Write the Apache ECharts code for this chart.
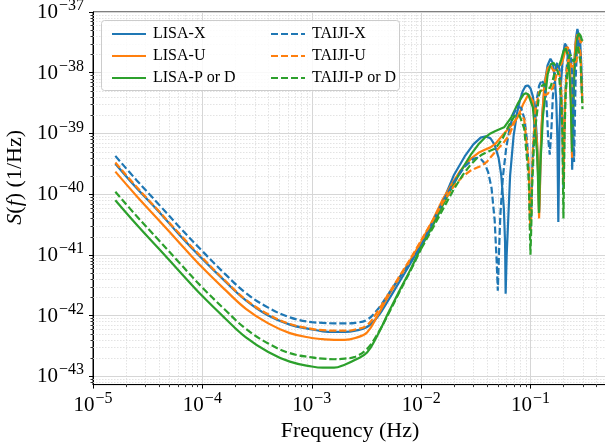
<!DOCTYPE html>
<html>
<head>
<meta charset="utf-8">
<script src="https://cdn.jsdelivr.net/npm/echarts@6/dist/echarts.min.js"></script>
<style>
  html, body { margin: 0; padding: 0; background: #fff; }
  #chart { width: 605px; height: 443px; }
</style>
</head>
<body>
<div id="chart"></div>
<script>
// frequency grid (Hz) shared by the smooth low-frequency part
const freqLow = [1.6e-5, 2.5e-5, 4e-5, 6.3e-5, 1e-4, 1.6e-4, 2.5e-4, 4e-4, 6.3e-4, 1e-3,
  1.26e-3, 1.6e-3, 2e-3, 2.5e-3, 3.2e-3, 4e-3, 5e-3, 6.3e-3, 8e-3, 1e-2];

// log10 S(f) [1/Hz]
const lisaXLow  = [-39.50, -39.90, -40.29, -40.69, -41.07, -41.43, -41.75, -42.00, -42.15, -42.23, -42.26, -42.27, -42.27, -42.25, -42.19, -42.02, -41.75, -41.45, -41.14, -40.83];
const lisaULow  = [-39.63, -40.03, -40.43, -40.82, -41.21, -41.57, -41.89, -42.13, -42.29, -42.37, -42.39, -42.40, -42.40, -42.37, -42.28, -42.00, -41.68, -41.38, -41.08, -40.78];
const lisaPLow  = [-40.10, -40.50, -40.90, -41.29, -41.68, -42.04, -42.36, -42.60, -42.76, -42.84, -42.86, -42.86, -42.81, -42.73, -42.61, -42.32, -41.96, -41.60, -41.24, -40.87];
const taijiXLow = [-39.37, -39.77, -40.17, -40.56, -40.94, -41.31, -41.63, -41.87, -42.03, -42.11, -42.12, -42.13, -42.13, -42.12, -42.07, -41.90, -41.65, -41.38, -41.12, -40.85];
const taijiULow = [-39.48, -39.88, -40.28, -40.67, -41.05, -41.42, -41.74, -41.98, -42.14, -42.22, -42.24, -42.25, -42.25, -42.23, -42.16, -41.93, -41.65, -41.36, -41.06, -40.76];
const taijiPLow = [-39.96, -40.36, -40.76, -41.15, -41.54, -41.90, -42.22, -42.46, -42.62, -42.69, -42.71, -42.72, -42.71, -42.68, -42.55, -42.30, -41.98, -41.62, -41.26, -40.90];

// high-frequency part with the transfer-function dips: [f (Hz), log10 S]
const lisaXHigh = [[0.0126,-40.5],[0.0158,-40.12],[0.02,-39.68],[0.025,-39.38],[0.03,-39.18],[0.035,-39.07],[0.039,-39.05],[0.043,-39.08],[0.047,-39.19],[0.051,-39.4],[0.054,-39.69],[0.057,-40.23],[0.0585,-40.8],[0.0592,-41.64],[0.0605,-41.0],[0.0624,-40.45],[0.065,-39.7],[0.07,-39.04],[0.075,-38.68],[0.08,-38.45],[0.085,-38.3],[0.09,-38.22],[0.095,-38.21],[0.1,-38.26],[0.105,-38.39],[0.11,-38.65],[0.114,-39.04],[0.117,-39.6],[0.1198,-40.3],[0.1215,-39.95],[0.124,-39.31],[0.128,-38.7],[0.135,-38.17],[0.143,-37.88],[0.152,-37.77],[0.16,-37.84],[0.167,-38.11],[0.172,-38.48],[0.176,-39.09],[0.1795,-40.46],[0.181,-39.92],[0.184,-38.9],[0.19,-38.16],[0.198,-37.71],[0.206,-37.52],[0.214,-37.49],[0.222,-37.62],[0.229,-37.92],[0.234,-38.32],[0.238,-38.95],[0.2402,-39.6],[0.242,-39.33],[0.246,-38.37],[0.252,-37.79],[0.26,-37.43],[0.268,-37.28],[0.276,-37.29],[0.284,-37.48],[0.29,-37.81],[0.296,-38.3]];
const lisaUHigh = [[0.0126,-40.45],[0.0158,-40.08],[0.0191,-39.83],[0.0229,-39.61],[0.0287,-39.41],[0.0334,-39.32],[0.0382,-39.27],[0.043,-39.23],[0.0478,-39.17],[0.0573,-39.0],[0.0669,-38.87],[0.0764,-38.73],[0.086,-38.51],[0.0955,-38.36],[0.105,-38.47],[0.1146,-39.15],[0.1162,-39.4],[0.1197,-40.4],[0.1219,-39.9],[0.1238,-39.3],[0.126,-38.88],[0.1337,-38.21],[0.1433,-37.92],[0.1528,-37.89],[0.1624,-37.97],[0.172,-37.95],[0.1815,-37.89],[0.191,-37.86],[0.2006,-37.75],[0.21,-37.59],[0.2197,-37.58],[0.2292,-37.91],[0.235,-38.48],[0.2398,-39.4],[0.2445,-38.56],[0.2483,-38.04],[0.2579,-37.51],[0.2674,-37.37],[0.277,-37.43],[0.2865,-37.51],[0.296,-37.47],[0.3,-37.47]];
const lisaPHigh = [[0.0126,-40.54],[0.0158,-40.18],[0.0191,-39.89],[0.0229,-39.63],[0.0287,-39.34],[0.0334,-39.18],[0.0382,-39.07],[0.043,-39.0],[0.0478,-38.96],[0.0573,-38.9],[0.0669,-38.73],[0.0764,-38.51],[0.086,-38.36],[0.0907,-38.34],[0.0955,-38.36],[0.105,-38.57],[0.1146,-39.31],[0.1162,-39.56],[0.1193,-40.31],[0.1225,-39.55],[0.1255,-39.23],[0.1299,-38.71],[0.1433,-38.03],[0.1528,-37.86],[0.1624,-37.84],[0.172,-37.9],[0.1815,-37.9],[0.191,-37.78],[0.2006,-37.64],[0.21,-37.6],[0.2197,-37.73],[0.2292,-38.14],[0.2345,-38.64],[0.2398,-39.3],[0.2455,-38.64],[0.2521,-37.97],[0.2674,-37.42],[0.277,-37.35],[0.2865,-37.39],[0.296,-37.47],[0.3,-37.46]];
const taijiXHigh = [[0.0126,-40.48],[0.0158,-40.12],[0.02,-39.8],[0.025,-39.55],[0.03,-39.42],[0.0325,-39.4],[0.035,-39.42],[0.038,-39.49],[0.041,-39.64],[0.044,-39.9],[0.047,-40.43],[0.049,-41.1],[0.0502,-41.59],[0.0515,-40.95],[0.053,-40.33],[0.056,-39.7],[0.06,-39.23],[0.065,-38.88],[0.07,-38.68],[0.076,-38.56],[0.082,-38.58],[0.088,-38.76],[0.093,-39.13],[0.096,-39.57],[0.098,-40.15],[0.0998,-40.6],[0.1015,-40.36],[0.104,-39.5],[0.108,-38.89],[0.114,-38.44],[0.12,-38.21],[0.127,-38.12],[0.134,-38.21],[0.14,-38.49],[0.145,-39.09],[0.1498,-39.35],[0.155,-38.95],[0.16,-38.38],[0.168,-37.97],[0.176,-37.83],[0.184,-37.94],[0.19,-38.23],[0.195,-38.76],[0.198,-39.53],[0.1998,-39.9],[0.2025,-39.32],[0.206,-38.56],[0.212,-38.0],[0.22,-37.68],[0.227,-37.62],[0.234,-37.73],[0.24,-38.02],[0.245,-38.57],[0.2498,-39.47],[0.253,-38.97],[0.258,-38.13],[0.265,-37.66],[0.273,-37.46],[0.28,-37.47],[0.287,-37.68],[0.293,-38.13],[0.297,-38.45]];
const taijiUHigh = [[0.0126,-40.45],[0.0159,-40.13],[0.0199,-39.87],[0.0239,-39.71],[0.0279,-39.62],[0.0318,-39.57],[0.0358,-39.53],[0.0398,-39.47],[0.0477,-39.3],[0.0557,-39.17],[0.0637,-39.03],[0.0716,-38.81],[0.0796,-38.66],[0.0875,-38.77],[0.0955,-39.45],[0.0968,-39.7],[0.0984,-40.3],[0.0998,-40.6],[0.1016,-40.3],[0.1032,-39.7],[0.105,-39.28],[0.1114,-38.61],[0.1194,-38.32],[0.1273,-38.29],[0.1353,-38.37],[0.1432,-38.35],[0.1512,-38.29],[0.159,-38.26],[0.167,-38.15],[0.175,-37.99],[0.183,-37.98],[0.191,-38.31],[0.1958,-38.88],[0.1998,-39.8],[0.2037,-38.96],[0.207,-38.44],[0.2149,-37.91],[0.2228,-37.77],[0.2308,-37.83],[0.2387,-37.91],[0.2467,-37.87],[0.2546,-37.85],[0.2626,-37.81],[0.2706,-37.67],[0.2785,-37.57],[0.2865,-37.69],[0.2944,-38.3],[0.2985,-38.5]];
const taijiPHigh = [[0.0126,-40.58],[0.0159,-40.24],[0.0199,-39.92],[0.0239,-39.69],[0.0279,-39.53],[0.0318,-39.42],[0.0358,-39.35],[0.0398,-39.31],[0.0477,-39.25],[0.0557,-39.08],[0.0637,-38.86],[0.0716,-38.71],[0.0756,-38.69],[0.0796,-38.71],[0.0875,-38.92],[0.0955,-39.66],[0.0968,-39.91],[0.0984,-40.52],[0.0998,-41.0],[0.1016,-40.52],[0.1032,-39.91],[0.1082,-39.06],[0.1194,-38.38],[0.1273,-38.21],[0.1353,-38.19],[0.1432,-38.25],[0.1512,-38.25],[0.159,-38.13],[0.167,-37.99],[0.175,-37.95],[0.183,-38.08],[0.191,-38.49],[0.1954,-38.99],[0.1998,-40.4],[0.2046,-38.99],[0.21,-38.32],[0.2228,-37.77],[0.2308,-37.7],[0.2387,-37.74],[0.2467,-37.82],[0.2546,-37.78],[0.2626,-37.64],[0.2706,-37.56],[0.2785,-37.59],[0.2865,-37.83],[0.2944,-38.35],[0.2985,-38.6]];

// tick exponents
const xMajorExp = [-5, -4, -3, -2, -1];
const yMajorExp = [-43, -42, -41, -40, -39, -38, -37];

// ECharts rounds log-axis values to 10 decimals, so the y axis is drawn
// in units of 1e-40 /Hz and the labels add the offset back.
const Y_SHIFT = 40;
const xMin = 1e-5, xMax = 0.5;
const yMin = Math.pow(10, -43.138 + Y_SHIFT), yMax = Math.pow(10, -37 + Y_SHIFT);

const C_BLUE = '#1f77b4', C_ORANGE = '#ff7f0e', C_GREEN = '#2ca02c';
const FONT = '"Liberation Serif", "DejaVu Serif", serif';

function lowPoints(low) {
  return freqLow.map((f, i) => [f, Math.pow(10, low[i] + Y_SHIFT)]);
}
function highPoints(low, high) {
  const n = freqLow.length - 1;
  const pts = [[freqLow[n], Math.pow(10, low[n] + Y_SHIFT)]];
  high.forEach(p => pts.push([p[0], Math.pow(10, p[1] + Y_SHIFT)]));
  return pts;
}

// minor tick values 2..9 of each decade inside an axis range
function minorValues(lo, hi) {
  const out = [];
  for (let e = Math.floor(Math.log10(lo)); e <= Math.ceil(Math.log10(hi)); e++) {
    for (let m = 2; m <= 9; m++) {
      const v = m * Math.pow(10, e);
      if (v > lo && v < hi) out.push(v);
    }
  }
  return out;
}
const xMinor = minorValues(xMin, xMax);
const yMinor = minorValues(yMin, yMax);

function makeFormatter(shift) {
  return function (v) {
    const e = Math.log10(v);
    const r = Math.round(e);
    if (!isFinite(e) || Math.abs(e - r) > 1e-6) return '';
    const p = r - shift;
    return '{b|10}{s|' + (p < 0 ? '\u2212' : '') + Math.abs(p) + '}';
  };
}
const labelRich = {
  b: { fontFamily: FONT, fontSize: 21, color: '#000', verticalAlign: 'bottom', lineHeight: 22 },
  s: { fontFamily: FONT, fontSize: 16, color: '#000', verticalAlign: 'bottom', lineHeight: 17, padding: [0, 0, 9, 1] }
};

function minorXItem(params, api) {
  const cs = params.coordSys;
  const x = Math.round(api.coord([api.value(0), yMax])[0]) + 0.5;
  const bottom = cs.y + cs.height;
  return { type: 'group', children: [
    { type: 'line', shape: { x1: x, y1: cs.y, x2: x, y2: bottom },
      style: { stroke: '#dcdcdc', lineWidth: 0.8, lineDash: [1.5, 1.5] } },
    { type: 'line', shape: { x1: x, y1: bottom, x2: x, y2: bottom + 2.5 },
      style: { stroke: '#000', lineWidth: 0.8 } }
  ]};
}
function minorYItem(params, api) {
  const cs = params.coordSys;
  const y = Math.round(api.coord([xMin, api.value(1)])[1]) + 0.5;
  return { type: 'group', children: [
    { type: 'line', shape: { x1: cs.x, y1: y, x2: cs.x + cs.width, y2: y },
      style: { stroke: '#dcdcdc', lineWidth: 0.8, lineDash: [1.5, 1.5] } },
    { type: 'line', shape: { x1: cs.x - 2.5, y1: y, x2: cs.x, y2: y },
      style: { stroke: '#000', lineWidth: 0.8 } }
  ]};
}

// each curve = smooth low-frequency piece + sharp high-frequency piece, same name
function curve(name, color, dashed, low, high) {
  const base = {
    name: name, type: 'line', showSymbol: false, symbol: 'none', clip: true, z: 3,
    lineStyle: { color: color, width: 2.2, type: dashed ? [7, 3] : 'solid' },
    itemStyle: { color: color },
    emphasis: { disabled: true }
  };
  return [
    Object.assign({}, base, { data: lowPoints(low), smooth: 0.4 }),
    Object.assign({}, base, { data: highPoints(low, high), smooth: false })
  ];
}

function legendBlock(names, left) {
  return {
    data: names, orient: 'vertical', left: left, top: 21,
    itemWidth: 34, itemHeight: 12, itemGap: 6, z: 101, selectedMode: false,
    itemStyle: { opacity: 0, borderWidth: 0 },
    textStyle: { fontFamily: FONT, fontSize: 16, color: '#000', padding: [0, 0, 0, 2] }
  };
}

const chart = echarts.init(document.getElementById('chart'), null, { renderer: 'canvas' });
chart.setOption({
  animation: false,
  backgroundColor: '#fff',
  grid: { left: 93, top: 12, width: 514, height: 372.6, show: true, borderColor: '#000', borderWidth: 1,
    backgroundColor: 'transparent', containLabel: false, outerBoundsMode: 'none' },
  xAxis: {
    type: 'log', logBase: 10, min: xMin, max: xMax,
    name: 'Frequency (Hz)', nameLocation: 'middle', nameGap: 36,
    nameTextStyle: { fontFamily: FONT, fontSize: 22, color: '#000' },
    axisLine: { show: true, onZero: false, lineStyle: { color: '#000', width: 1 } },
    axisTick: { show: true, inside: false, length: 4, customValues: xMajorExp.map(e => Math.pow(10, e)), lineStyle: { color: '#000' } },
    axisLabel: { customValues: xMajorExp.map(e => Math.pow(10, e)), formatter: makeFormatter(0), rich: labelRich, margin: 9, color: '#000' },
    splitLine: { show: true, lineStyle: { color: '#d6d6d6', width: 1 } },
    minorTick: { show: false }, minorSplitLine: { show: false }
  },
  yAxis: {
    type: 'log', logBase: 10, min: yMin, max: yMax,
    name: '{i|S}({i|f}) (1/Hz)', nameLocation: 'middle', nameGap: 64, nameRotate: 90,
    nameTextStyle: { fontFamily: FONT, fontSize: 22, color: '#000', padding: [0, 0, 0, 42],
      rich: { i: { fontFamily: FONT, fontSize: 22, fontStyle: 'italic', color: '#000' } } },
    axisLine: { show: true, onZero: false, lineStyle: { color: '#000', width: 1 } },
    axisTick: { show: true, inside: false, length: 4, customValues: yMajorExp.map(e => Math.pow(10, e + Y_SHIFT)), lineStyle: { color: '#000' } },
    axisLabel: { customValues: yMajorExp.map(e => Math.pow(10, e + Y_SHIFT)), formatter: makeFormatter(Y_SHIFT), rich: labelRich, margin: 9, color: '#000' },
    splitLine: { show: true, lineStyle: { color: '#d6d6d6', width: 1 } },
    minorTick: { show: false }, minorSplitLine: { show: false }
  },
  legend: [
    legendBlock(['LISA-X', 'LISA-U', 'LISA-P or D'], 106),
    legendBlock(['TAIJI-X', 'TAIJI-U', 'TAIJI-P or D'], 265)
  ],
  graphic: { elements: [
    { type: 'rect', z: 100, shape: { x: 101.5, y: 20.5, width: 298, height: 70, r: 3 },
      style: { fill: 'rgba(255,255,255,0.85)', stroke: '#cccccc', lineWidth: 1 } }
  ]},
  series: [
    { type: 'custom', name: 'minorX', renderItem: minorXItem, data: xMinor.map(v => [v, yMax]),
      clip: false, z: 1, silent: true, encode: { x: 0, y: 1 } },
    { type: 'custom', name: 'minorY', renderItem: minorYItem, data: yMinor.map(v => [xMin, v]),
      clip: false, z: 1, silent: true, encode: { x: 0, y: 1 } }
  ].concat(
    curve('LISA-X', C_BLUE, false, lisaXLow, lisaXHigh),
    curve('LISA-U', C_ORANGE, false, lisaULow, lisaUHigh),
    curve('LISA-P or D', C_GREEN, false, lisaPLow, lisaPHigh),
    curve('TAIJI-X', C_BLUE, true, taijiXLow, taijiXHigh),
    curve('TAIJI-U', C_ORANGE, true, taijiULow, taijiUHigh),
    curve('TAIJI-P or D', C_GREEN, true, taijiPLow, taijiPHigh)
  )
});
</script>
</body>
</html>
